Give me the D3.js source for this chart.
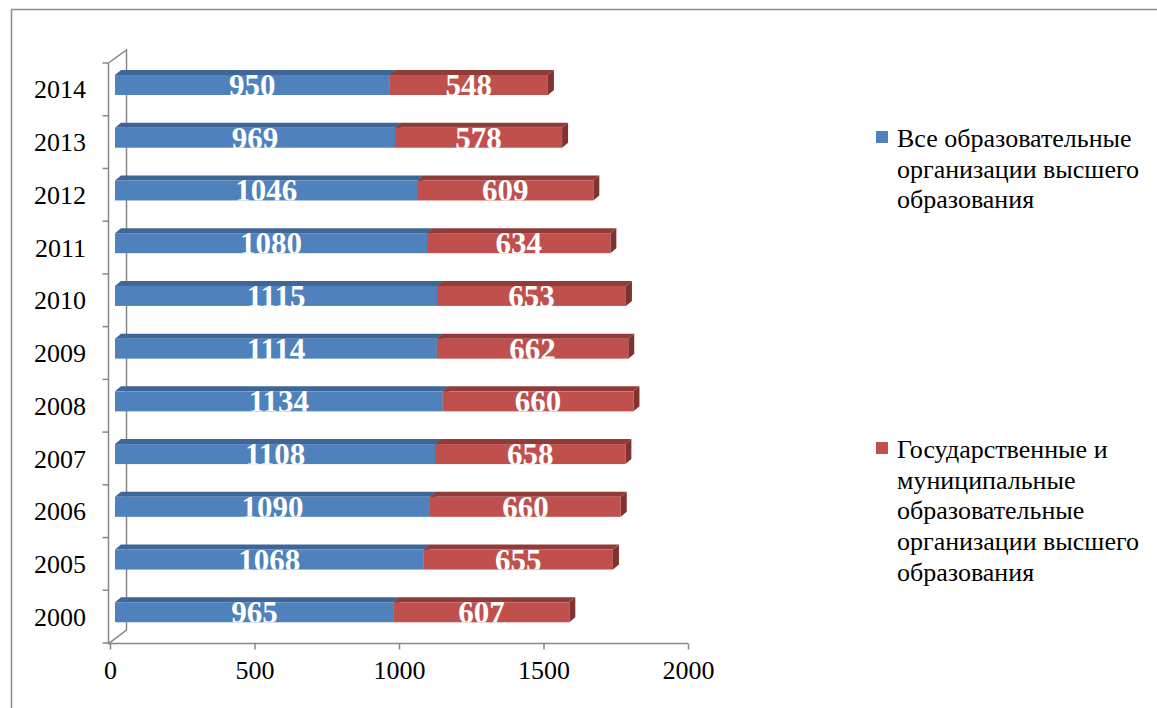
<!DOCTYPE html>
<html>
<head>
<meta charset="utf-8">
<script src="https://cdn.jsdelivr.net/npm/d3@7"></script>
<style>
  body { margin: 0; background: #fff; }
  svg { display: block; font-family: 'Liberation Serif', 'Times New Roman', serif; }
</style>
</head>
<body>
<div id="chart"></div>
<script>
const years = ['2000', '2005', '2006', '2007', '2008', '2009', '2010', '2011', '2012', '2013', '2014']
const allOrgs = [965, 1068, 1090, 1108, 1134, 1114, 1115, 1080, 1046, 969, 950]
const stateOrgs = [607, 655, 660, 658, 660, 662, 653, 634, 609, 578, 548]
const xTicks = [0, 500, 1000, 1500, 2000]
const seriesNames = [
    ['Все образовательные', 'организации высшего', 'образования'],
    ['Государственные и', 'муниципальные', 'образовательные', 'организации высшего', 'образования']
]

const WIDTH = 1157
const HEIGHT = 708
const DEPTH = { X: 6, Y: -5 }  // 3d offset of bar top / side
const BAR_H = 20

const colors = [
    { front: '#4f81bd', top: '#3e6797', side: '#36597f' },
    { front: '#c0504d', top: '#923c3a', side: '#7f3230' }
]

const svg = d3.select('#chart')
    .append('svg')
        .attr('width', WIDTH)
        .attr('height', HEIGHT)

// outer frame (only left and top edges visible)
svg.append('path')
    .attr('d', `M11.5,${HEIGHT} L11.5,9.5 L${WIDTH},9.5`)
    .attr('fill', 'none')
    .attr('stroke', '#8c8c8c')
    .attr('stroke-width', 1.5)

const x = d3.scaleLinear()
    .domain([0, 2000])
    .range([110, 688])

const y = d3.scaleBand()
    .domain(years.slice().reverse())   // 2014 on top
    .range([63, 643])

const axisColor = '#868686'
const wallX0 = 108.5, wallX1 = 126.5, floorY = 643.5

// back wall + left wall edges
const frame = svg.append('g')
    .attr('fill', 'none')
    .attr('stroke', axisColor)
    .attr('stroke-width', 1.5)

frame.append('path')
    .attr('d', `M${wallX0},63 L${wallX1},50 L${wallX1},630 L${wallX0},${floorY} L${wallX0},63`)

// y ticks (band boundaries)
frame.selectAll('.ytick')
    .data(d3.range(years.length + 1))
    .enter().append('line')
        .attr('x1', wallX0 - 6)
        .attr('x2', wallX0)
        .attr('y1', i => 63 + i * y.step())
        .attr('y2', i => 63 + i * y.step())

// x axis on the floor
const xAxisGroup = svg.append('g')
    .attr('transform', `translate(0, ${floorY})`)
xAxisGroup.call(d3.axisBottom(x).tickValues(xTicks).tickFormat(d3.format('d'))
    .tickSize(6).tickSizeOuter(0).tickPadding(10))
xAxisGroup.select('.domain')
    .attr('d', `M${wallX0},0 L${x(2000)},0`)
    .attr('stroke', axisColor).attr('stroke-width', 1.5)
xAxisGroup.selectAll('.tick line').attr('stroke', axisColor).attr('stroke-width', 1.5)
xAxisGroup.selectAll('.tick text')
    .attr('font-family', "'Liberation Serif', serif")
    .attr('font-size', 26)
    .attr('fill', '#000')
    .attr('dy', '0.75em')

// y labels
svg.selectAll('.ylabel')
    .data(years)
    .enter().append('text')
        .attr('x', 86)
        .attr('y', d => y(d) + y.bandwidth() / 2)
        .attr('dy', '0.35em')
        .attr('text-anchor', 'end')
        .attr('font-size', 26)
        .text(d => d)

// stacked segments
const rows = years.map((yr, i) => ({ year: yr, values: [allOrgs[i], stateOrgs[i]] }))
const segments = []
rows.forEach(r => {
    let acc = 0
    r.values.forEach((v, s) => {
        segments.push({ year: r.year, s: s, v0: acc, v1: acc + v, value: v })
        acc += v
    })
})

const OFF = 5  // bars sit slightly behind the front plane
const bars = svg.append('g')

const seg = bars.selectAll('g.seg')
    .data(segments)
    .enter().append('g')

const fx0 = d => x(d.v0) + OFF
const fx1 = d => x(d.v1) + OFF
const fy = d => y(d.year) + 12

seg.append('path')
    .attr('fill', d => colors[d.s].top)
    .attr('d', d => `M${fx0(d)},${fy(d)} L${fx0(d) + DEPTH.X},${fy(d) + DEPTH.Y} L${fx1(d) + DEPTH.X},${fy(d) + DEPTH.Y} L${fx1(d)},${fy(d)} Z`)

seg.append('path')
    .attr('fill', d => colors[d.s].side)
    .attr('d', d => `M${fx1(d)},${fy(d)} L${fx1(d) + DEPTH.X},${fy(d) + DEPTH.Y} L${fx1(d) + DEPTH.X},${fy(d) + BAR_H + DEPTH.Y} L${fx1(d)},${fy(d) + BAR_H} Z`)

seg.append('rect')
    .attr('x', fx0)
    .attr('y', fy)
    .attr('width', d => fx1(d) - fx0(d))
    .attr('height', BAR_H)
    .attr('fill', d => colors[d.s].front)

// value labels, clipped to the bar front
const defs = svg.append('defs')
segments.forEach((d, i) => {
    defs.append('clipPath').attr('id', 'clip' + i)
        .append('rect')
            .attr('x', fx0(d) - 20)
            .attr('y', fy(d) - 10)
            .attr('width', fx1(d) - fx0(d) + 40)
            .attr('height', BAR_H + 10)
})

seg.append('text')
    .attr('clip-path', (d, i) => `url(#clip${i})`)
    .attr('x', d => (fx0(d) + fx1(d)) / 2)
    .attr('y', d => fy(d) + BAR_H + 1)
    .attr('text-anchor', 'middle')
    .attr('font-size', 31)
    .attr('font-weight', 'bold')
    .attr('fill', '#fff')
    .text(d => d.value)

// legend
const legendPos = [147, 458]
const legend = svg.selectAll('.legend')
    .data(seriesNames)
    .enter().append('g')
        .attr('transform', (d, i) => `translate(876, ${legendPos[i]})`)

legend.append('rect')
    .attr('x', 0)
    .attr('y', -16)
    .attr('width', 12)
    .attr('height', 12)
    .attr('fill', (d, i) => colors[i].front)

legend.append('text')
    .attr('font-size', 26)
    .attr('fill', '#000')
    .selectAll('tspan')
    .data(d => d)
    .enter().append('tspan')
        .attr('x', 21)
        .attr('y', (d, i) => i * 30.7)
        .text(d => d)
</script>
</body>
</html>
